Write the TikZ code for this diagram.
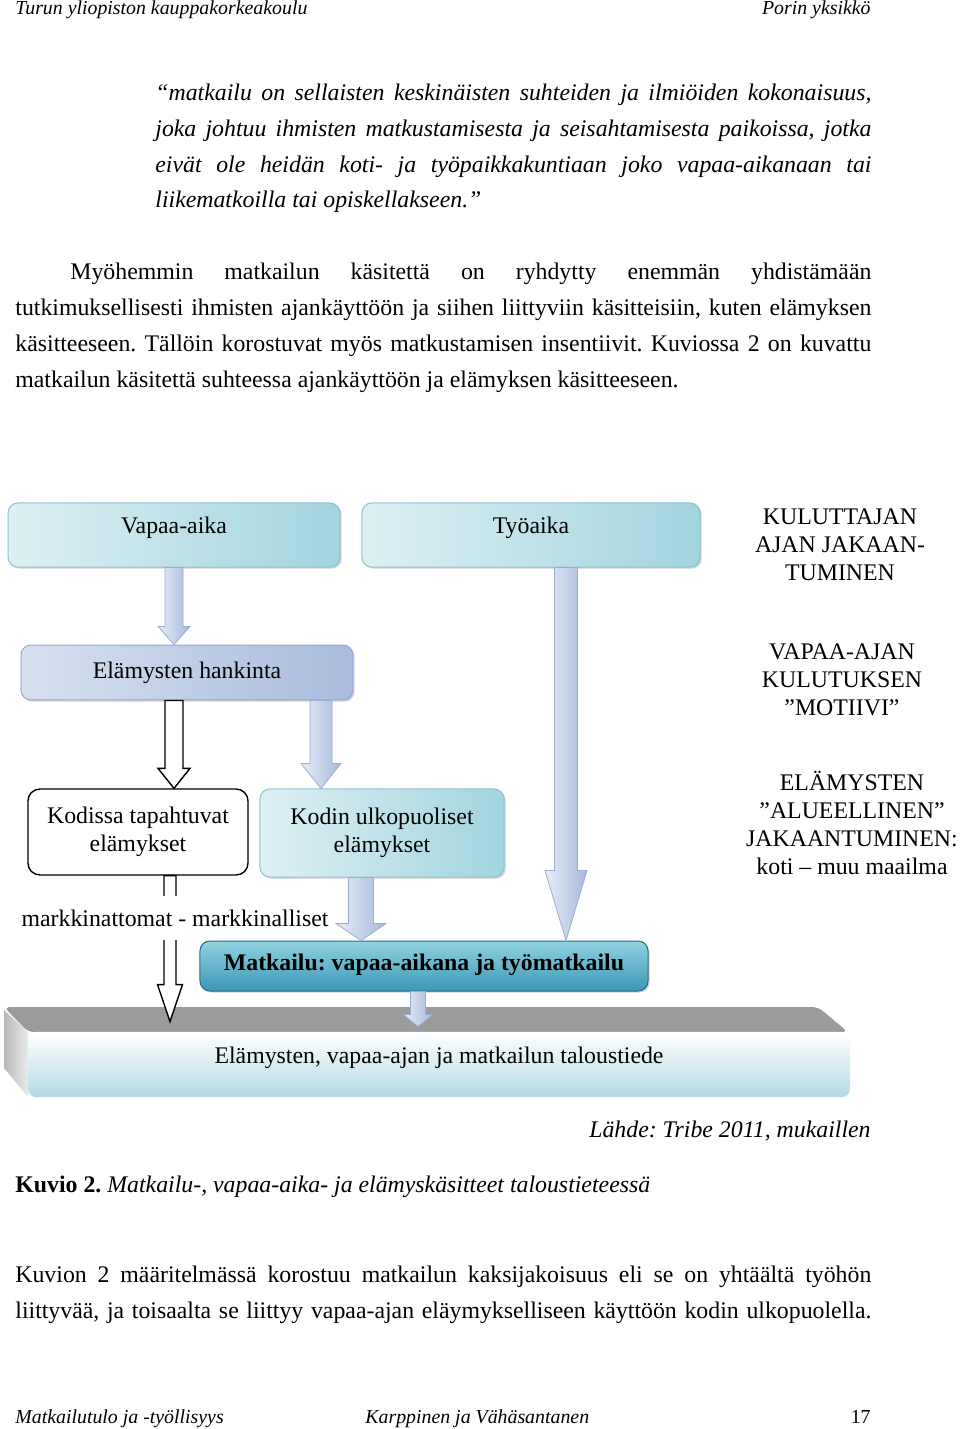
\documentclass[tikz,border=0pt]{standalone}
\usepackage{fontspec}
\setmainfont{Liberation Serif}
\frenchspacing
\definecolor{cyanLight}{HTML}{DDF0F4}
\definecolor{cyanMid}{HTML}{A2D4DF}
\definecolor{cyanEdge}{HTML}{8EC3CF}
\definecolor{blueLight}{HTML}{D6E0F0}
\definecolor{blueMid}{HTML}{A9BCDD}
\definecolor{blueEdge}{HTML}{93A8D0}
\definecolor{tealTop}{HTML}{92D2E2}
\definecolor{tealBottom}{HTML}{3A98B5}
\definecolor{tealEdge}{HTML}{2C6A84}
\definecolor{arrowLight}{HTML}{E6EDF7}
\definecolor{arrowDark}{HTML}{A5B8DC}
\definecolor{arrowEdge}{HTML}{9AAED3}
\definecolor{slabBlue}{HTML}{B3DAE5}
\definecolor{slabGrey}{HTML}{9B9B9B}
\usetikzlibrary{calc, shadows, positioning}

\newcommand{\pxu}{0.504pt}
% block arrow: style, from, to, shaft half width, head half width, head length (px)
\newcommand{\blockarrow}[6]{%
  \path[#1] let \p1=#2, \p2=#3 in
    (\x1-#4*\pxu,\y1) -- (\x1+#4*\pxu,\y1) -- (\x1+#4*\pxu,\y2+#6*\pxu)
    -- (\x1+#5*\pxu,\y2+#6*\pxu) -- (\x1,\y2) -- (\x1-#5*\pxu,\y2+#6*\pxu)
    -- (\x1-#4*\pxu,\y2+#6*\pxu) -- cycle;}

\begin{document}
\begin{tikzpicture}[
    x=0.504pt, y=-0.504pt,
    diagfont/.style={font=\fontsize{12}{14}\selectfont},
    bodyline/.style={anchor=base west, inner sep=0pt, font=\fontsize{12}{18}\selectfont},
    quoteline/.style={bodyline, font=\fontsize{12}{18}\selectfont\itshape},
    headline/.style={anchor=base west, inner sep=0pt, font=\fontsize{10}{12}\selectfont\itshape},
    cyanbox/.style={
      rounded corners=5pt,
      left color=cyanLight,
      right color=cyanMid,
      draw=cyanEdge,
      line width=0.5pt,
      align=center,
      diagfont,
      drop shadow={shadow xshift=0.8pt, shadow yshift=-0.8pt, fill=black!35},
    },
    bluebox/.style={cyanbox, left color=blueLight, right color=blueMid, draw=blueEdge},
    homebox/.style={rounded corners=6pt, fill=white, draw=black, line width=0.7pt, align=center, diagfont},
    tealbox/.style={cyanbox, top color=tealTop, bottom color=tealBottom, draw=tealEdge},
    sidelabel/.style={align=center, inner sep=0pt, diagfont},
    bluearrow/.style={left color=arrowLight, right color=arrowDark, draw=arrowEdge, line width=0.4pt},
    openarrow/.style={fill=white, draw=black, line width=0.7pt},
  ]
  \useasboundingbox[fill=white] (0,0) rectangle (960,1429);

  % page header
  \node[headline] (headL) at (15,15) {Turun yliopiston kauppakorkeakoulu};
  \node[headline, anchor=base east] (headR) at (871,15) {Porin yksikkö};

  % quotation
  \foreach \ln [count=\i] in {
      {“matkailu on sellaisten keskinäisten suhteiden ja ilmiöiden kokonaisuus,},
      {joka johtuu ihmisten matkustamisesta ja seisahtamisesta paikoissa, jotka},
      {eivät ole heidän koti- ja työpaikkakuntiaan joko vapaa-aikanaan tai}}
    \node[quoteline] (quote\i) at (155,{101+35.7*(\i-1)}) {\makebox[360.9pt][s]{\ln}};
  \node[quoteline] (quote4) at (155,208) {liikematkoilla tai opiskellakseen.”};

  % paragraph
  \node[bodyline] (para1) at (70,279) {\makebox[403.7pt][s]{Myöhemmin matkailun käsitettä on ryhdytty enemmän yhdistämään}};
  \node[bodyline] (para2) at (15,315) {\makebox[431.4pt][s]{tutkimuksellisesti ihmisten ajankäyttöön ja siihen liittyviin käsitteisiin, kuten elämyksen}};
  \node[bodyline] (para3) at (15,351) {\makebox[431.4pt][s]{käsitteeseen. Tällöin korostuvat myös matkustamisen insentiivit. Kuviossa 2 on kuvattu}};
  \node[bodyline] (para4) at (15,387) {matkailun käsitettä suhteessa ajankäyttöön ja elämyksen käsitteeseen.};

  % diagram boxes
  \node[cyanbox, minimum width=167.3pt, minimum height=32.3pt, text depth=10pt] (vapaa) at (174,535) {Vapaa-aika};
  \node[cyanbox, minimum width=170.4pt, minimum height=32.3pt, text depth=10pt] (tyo) at (531,535) {Työaika};
  \node[bluebox, minimum width=167.3pt, minimum height=27.7pt] (hank) at (187,672.5) {Elämysten hankinta};
  \node[homebox, minimum width=110.9pt, minimum height=43.3pt] (koti) at (138,832) {Kodissa tapahtuvat\\elämykset};
  \node[cyanbox, minimum width=123pt, minimum height=44.4pt] (ulko) at (382,833) {Kodin ulkopuoliset\\elämykset};
  \node[tealbox, minimum width=225.8pt, minimum height=25.2pt, text depth=4pt] (matk) at (424,966) {\textbf{Matkailu: vapaa-aikana ja työmatkailu}};

  % bottom slab
  \fill[slabGrey, rounded corners=3pt] (4,1007) -- (818,1007) -- (848,1032) -- (28,1032) -- cycle;
  \shade[left color=black!28, right color=black!8] (4,1010) -- (28,1032) -- (28,1097) -- (4,1068) -- cycle;
  \node[rounded corners=4pt, top color=white, bottom color=slabBlue, minimum width=414.3pt, minimum height=32.8pt,
        text depth=9pt, diagfont] (talous) at (439,1064.5) {Elämysten, vapaa-ajan ja matkailun taloustiede};

  % side labels
  \node[sidelabel] (jako) at (840,545) {KULUTTAJAN\\AJAN JAKAAN-\\TUMINEN};
  \node[sidelabel] (motiivi) at (842,680) {VAPAA-AJAN\\KULUTUKSEN\\”MOTIIVI”};
  \node[sidelabel] (alue) at (852,823) {ELÄMYSTEN\\”ALUEELLINEN”\\JAKAANTUMINEN:\\koti – muu maailma};

  % arrows
  \blockarrow{bluearrow}{(vapaa.south)}{(hank.north)}{9}{16}{18}
  \blockarrow{bluearrow}{($(tyo.south)+(35,0)$)}{(matk.north)}{11.5}{21}{70}
  \blockarrow{openarrow}{($(hank.south)+(-13,0)$)}{(koti.north)}{9}{16}{20}
  \blockarrow{bluearrow}{($(hank.south)+(134,0)$)}{(ulko.north)}{11}{20}{25}
  \blockarrow{openarrow}{($(koti.south)+(32,0)$)}{($(talous.north)+(0,-10)$)}{6}{12.5}{37}
  \blockarrow{bluearrow}{($(ulko.south)+(-21,0)$)}{(matk.north)}{12.5}{25}{17}
  \blockarrow{bluearrow}{($(matk.south)+(-6,0)$)}{($(talous.north)+(0,-5)$)}{7.5}{14.5}{12}

  \node[fill=white, minimum height=21.7pt, inner xsep=1pt, diagfont] (markk) at (175,918) {markkinattomat - markkinalliset};

  % source, caption, closing paragraph
  \node[quoteline, anchor=base east] (source) at (871,1137) {Lähde: Tribe 2011, mukaillen};
  \node[bodyline] (caption) at (15,1192) {\textbf{Kuvio 2.} \textit{Matkailu-, vapaa-aika- ja elämyskäsitteet taloustieteessä}};
  \node[bodyline] (close1) at (15,1282) {\makebox[431.4pt][s]{Kuvion 2 määritelmässä korostuu matkailun kaksijakoisuus eli se on yhtäältä työhön}};
  \node[bodyline] (close2) at (15,1318) {\makebox[431.4pt][s]{liittyvää, ja toisaalta se liittyy vapaa-ajan eläymykselliseen käyttöön kodin ulkopuolella.}};

  % page footer
  \node[headline] (footL) at (15,1423) {Matkailutulo ja -työllisyys};
  \node[headline] (footM) at (365,1423) {Karppinen ja Vähäsantanen};
  \node[headline, anchor=base east, font=\fontsize{10}{12}\selectfont] (footR) at (871,1423) {17};
\end{tikzpicture}
\end{document}
